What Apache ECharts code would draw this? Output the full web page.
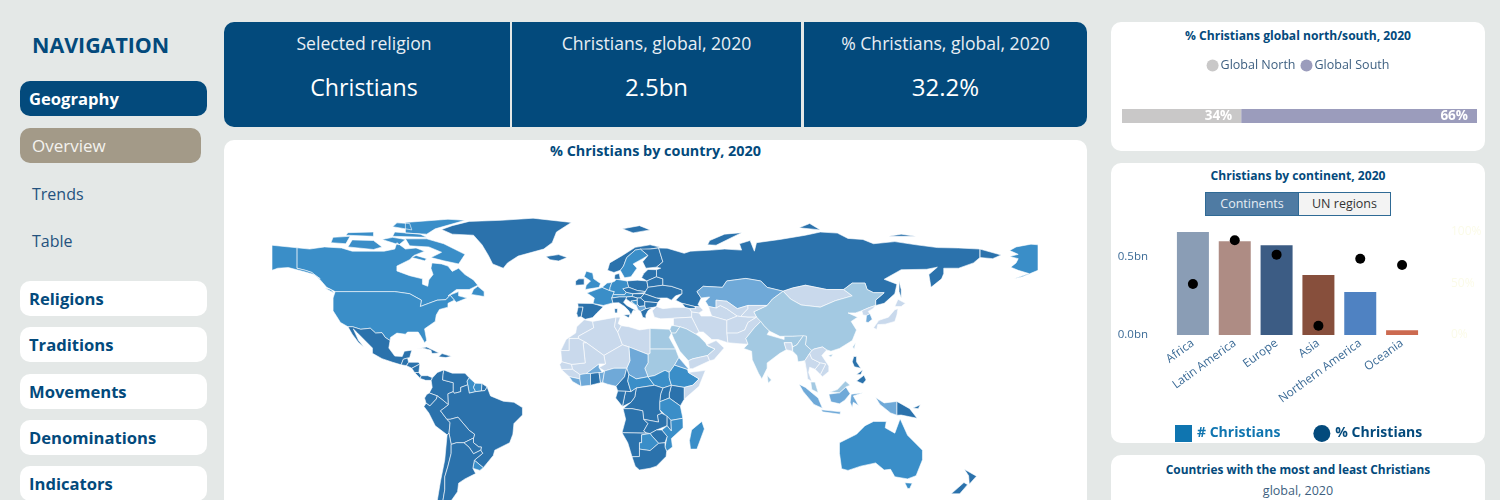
<!DOCTYPE html>
<html>
<head>
<meta charset="utf-8">
<title>Christians, global, 2020</title>
<script src="https://cdn.jsdelivr.net/npm/echarts@6/dist/echarts.min.js"></script>
<style>
html, body { margin: 0; padding: 0; width: 1500px; height: 500px; overflow: hidden; background: #e4e8e7; font-family: "Open Sans", "Noto Sans", sans-serif; }
.abs { position: absolute; box-sizing: border-box; }
.nav { left: 20px; width: 187px; height: 35px; line-height: 36px; padding-left: 9px; background: #fff; border-radius: 10px; color: #034a7c; font-weight: 700; font-size: 16.6px; }
.sub { left: 32px; color: #24527e; font-size: 16px; line-height: 24px; }
.kpi { top: 22px; height: 105px; background: #034a7c; color: #fff; text-align: center; }
.kpi .t { position: absolute; left: 0; right: 0; top: 9px; font-size: 17.6px; line-height: 24px; color: #e8eef4; }
.kpi .v { position: absolute; left: 0; right: 0; top: 46px; font-size: 24px; line-height: 38px; }
.card { background: #fff; border-radius: 10px; }
.title { position: absolute; left: 0; right: 0; text-align: center; color: #034a7c; font-weight: 700; font-size: 12.1px; line-height: 18px; }
.tog { top: 192px; height: 24px; line-height: 22px; text-align: center; font-size: 12.5px; border: 1px solid #2f6a95; }
</style>
</head>
<body>
<div class="abs" style="left:32px;top:29px;font-size:21.4px;font-weight:700;color:#034a7c;line-height:32px">NAVIGATION</div>
<div class="abs nav" style="top:81px;background:#034a7c;color:#fff">Geography</div>
<div class="abs nav" style="top:128px;width:181px;background:#a39a88;color:#f4f2ee;font-weight:400;padding-left:12px;font-size:17px">Overview</div>
<div class="abs sub" style="top:182px">Trends</div>
<div class="abs sub" style="top:229px">Table</div>
<div class="abs nav" style="top:281px">Religions</div>
<div class="abs nav" style="top:327px">Traditions</div>
<div class="abs nav" style="top:374px">Movements</div>
<div class="abs nav" style="top:420px">Denominations</div>
<div class="abs nav" style="top:466px">Indicators</div>

<div class="abs kpi" style="left:224px;width:286px;border-radius:10px 0 0 10px;padding-right:6px"><div class="t" style="right:6px">Selected religion</div><div class="v" style="right:6px;font-size:23.2px">Christians</div></div>
<div class="abs kpi" style="left:512px;width:289px"><div class="t">Christians, global, 2020</div><div class="v">2.5bn</div></div>
<div class="abs kpi" style="left:804px;width:283px;border-radius:0 10px 10px 0"><div class="t">% Christians, global, 2020</div><div class="v">32.2%</div></div>

<div class="abs card" style="left:224px;top:140px;width:863px;height:400px">
  <div class="title" style="top:2px;font-size:14.4px">% Christians by country, 2020</div>
  <div id="map-chart" style="position:absolute;left:0;top:0;width:863px;height:360px"></div>
</div>

<div class="abs card" style="left:1111px;top:22px;width:374px;height:129px">
  <div class="title" style="top:5px">% Christians global north/south, 2020</div>
  <div id="split-chart" style="position:absolute;left:0;top:0;width:374px;height:129px"></div>
</div>

<div class="abs card" style="left:1111px;top:163px;width:374px;height:280px;overflow:hidden">
  <div class="title" style="top:4px">Christians by continent, 2020</div>
  <div id="continent-chart" style="position:absolute;left:0;top:0;width:374px;height:280px"></div>
</div>
<div class="abs tog" style="left:1205px;width:94px;background:#4f7ba3;color:#e6edf3">Continents</div>
<div class="abs tog" style="left:1298px;width:93px;background:#f3f3f3;color:#333">UN regions</div>

<div class="abs card" style="left:1111px;top:455px;width:374px;height:100px">
  <div class="title" style="top:5px;font-size:11.9px">Countries with the most and least Christians</div>
  <div style="position:absolute;left:0;right:0;top:27px;text-align:center;font-size:12.5px;line-height:18px;color:#3d5f80">global, 2020</div>
</div>

<script>
// continents chart
const continents = ['Africa', 'Latin America', 'Europe', 'Asia', 'Northern America', 'Oceania'];
const christiansBn = [0.66, 0.60, 0.575, 0.385, 0.275, 0.03];
const christiansPct = [49.5, 92, 78, 9, 74, 68];
const continentColors = ['#8a9db5', '#ae8c84', '#3c5c84', '#874f3c', '#4f82c2', '#cc6a50'];

// global north / south split
const northSouthNames = ['Global North', 'Global South'];
const northSouthPct = [33.6, 66.4];

// % Christians by country, estimated from the shade of each country
const countryPct = {
  Canada: 60, USA: 65, Mexico: 94, Guatemala: 95, Honduras: 90, Nicaragua: 90, CostaRica: 90, Panama: 90,
  Cuba: 75, Hispaniola: 85, Colombia: 92, Venezuela: 90, Guyana: 62, Suriname: 55, Guiana: 80, Ecuador: 94,
  Peru: 95, Brazil: 88, Bolivia: 93, Paraguay: 96, Uruguay: 55, Chile: 88, Argentina: 88, Greenland: 95,
  Iceland: 85, Svalbard: 80, UK: 60, Ireland: 85, Portugal: 90, Spain: 75, France: 60, Benelux: 55,
  Germany: 65, Alps: 68, Italy: 80, Denmark: 78, Norway: 80, Sweden: 62, Finland: 78, Poland: 92,
  Baltics: 70, Belarus: 72, Ukraine: 82, Czechia: 70, Hungary: 80, Romania: 95, Croatia: 85, Bosnia: 50,
  Serbia: 88, Albania: 40, Bulgaria: 80, Greece: 90, Russia: 72, Kazakhstan: 24, Mongolia: 1.8, China: 5,
  NorthKorea: 1.5, SouthKorea: 30, Japan: 1.5, Turkmenistan: 1.5, Uzbekistan: 1.2, Kyrgyz: 1.5, Afghanistan: 0.2,
  Pakistan: 1.5, Iran: 0.5, India: 3, Bangladesh: 0.5, SriLanka: 8, Myanmar: 8, Thailand: 1, Indochina: 1.5,
  Cambodia: 1, Malaya: 15, Sumatra: 25, Java: 25, Kalimantan: 25, Sarawak: 15, Sulawesi: 25, WestPapua: 40,
  PNG: 95, Luzon: 90, Mindanao: 90, Visayas: 90, Australia: 55, Tasmania: 55, NZSouth: 72, NZNorth: 72,
  Georgia: 85, Azerbaijan: 1.5, Turkey: 0.3, Levant: 1.5, Jordan: 3, Saudi: 4, Yemen: 0.2, Oman: 1.8,
  Morocco: 0.5, Algeria: 1, Tunisia: 0.5, Libya: 1.5, Egypt: 5, Sudan: 5, Chad: 40, Niger: 0.5, Mali: 1.5,
  Mauritania: 0.2, Senegal: 1.5, Guinea: 1.5, SierraLeone: 25, IvoryCoast: 35, Burkina: 25, Ghana: 72, Benin: 45,
  Nigeria: 45, Cameroon: 70, CAR: 65, SouthSudan: 65, Ethiopia: 62, Eritrea: 45, Somalia: 0.5, Kenya: 82, Uganda: 85,
  Tanzania: 60, DRC: 92, Congo: 90, Gabon: 80, Angola: 92, Zambia: 96, Malawi: 80, Mozambique: 55, Zimbabwe: 85,
  Namibia: 90, Botswana: 65, SouthAfrica: 82, Madagascar: 60, Taiwan: 5, Hainan: 5
};

// simplified country outlines in lon/lat; longitudes run past 180 because the map is cut at -152.7
const countryShapes = {
  Canada: [[[-141,69.6],[-135,69],[-128,70],[-120,69.5],[-115,68],[-108,68],[-100,68],[-95,69],[-94,72],[-90,69],[-85,69.5],[-81,68],[-86,66],[-88,64],[-94,61],[-94,58.7],[-88,56.5],[-82,55],[-82,52.5],[-79.5,51.5],[-79,54.5],[-77,57],[-78,60],[-77.5,62.5],[-73,62],[-70,61],[-68,58.5],[-65,60],[-62,57],[-58,54.5],[-56,52],[-60,50],[-66,50],[-70,47],[-65,49],[-65,47],[-61,46],[-66,44],[-67,45],[-69,47.3],[-71,45.2],[-75,45],[-79,43.5],[-83,42],[-82.5,45],[-88,48],[-95,49],[-123,49],[-127,51],[-130,54.5],[-134,58],[-137,59],[-141,60]],
    [[-90,73.8],[-80,73.8],[-72,71.5],[-67,69],[-62,66.5],[-65,62],[-72,63.5],[-78,65],[-73,67.5],[-79,70],[-88,70.5]],
    [[-117,70],[-105,68.8],[-101,70],[-105,73],[-115,73.3]],[[-125,72],[-118,71.5],[-116,75],[-124,74.5]],
    [[-90,76.5],[-80,76],[-76,78.5],[-62,82.5],[-70,83],[-90,81.5]],[[-96,75],[-80,74.5],[-83,76],[-95,77]],
    [[-118,75.5],[-105,75],[-105,77],[-117,76.7]],[[-59,47.7],[-53,46.7],[-53,49],[-56,51.5],[-58,50]],
    [[-87,65],[-81,63.5],[-80,64.5],[-85,66]],[[-128,50.7],[-123.5,48.4],[-125,50]],
    [[-101,73.5],[-93,71],[-90,73.5],[-96,74.5]],[[-96,79.5],[-87,78],[-88,81],[-94,81.3]]],
  USA: [[[-123,49],[-95,49],[-88,48],[-82.5,45],[-83,42],[-79,43.5],[-75,45],[-71,45.2],[-69,47.3],[-67,45],[-70,43.5],[-70,41.7],[-74,40.6],[-75.5,38],[-76,35],[-81,31.5],[-80,26],[-81,25],[-82.7,28],[-84,30],[-89,30],[-90,29],[-94,29.5],[-97,27.5],[-97.2,26],[-99.5,27.5],[-101,29.7],[-104,29.5],[-106.5,31.8],[-111,31.3],[-114.8,32.5],[-117,32.5],[-120.5,34.5],[-124,40],[-124,46]],
    [[-152.7,70.8],[-141,69.6],[-141,60],[-137,59],[-134,58],[-130,55],[-133,57],[-137,58.2],[-145,60.3],[-150,60],[-152.7,59]],
    [[207.3,71],[204,71.3],[197,70],[194,68.3],[198,66.5],[194,65.5],[198,64.5],[197,62.5],[194.5,60.5],[198,59],[203,57.5],[196,55],[200,56],[207.3,59]]],
  Mexico: [[[-117,32.5],[-114.8,32.5],[-111,31.3],[-106.5,31.8],[-104,29.5],[-101,29.7],[-99.5,27.5],[-97.2,26],[-97.8,22.5],[-95,18.7],[-91.5,18.5],[-90.5,21],[-87,21.5],[-88,18],[-89,17.8],[-91,17.2],[-92,14.6],[-96,15.8],[-101,17.5],[-105.5,20],[-105.5,22.5],[-109,26],[-112.5,29.5],[-114.5,31.5],[-112,26],[-109.5,23],[-112,25],[-115,29]]],
  Guatemala: [[[-92,14.6],[-91,17.2],[-89,17.8],[-88.5,15.8],[-89.5,14.2]]],
  Honduras: [[[-89.5,14.2],[-88.5,15.8],[-84,15.8],[-83.2,15],[-87,13]]],
  Nicaragua: [[[-87,13],[-83.2,15],[-83.7,11],[-85.7,11]]],
  CostaRica: [[[-85.7,11],[-83.7,11],[-82.6,9.5],[-83,8.2]]],
  Panama: [[[-83,8.2],[-82.6,9.5],[-79.5,9.5],[-77.3,8.5],[-78,7.3],[-80.5,7.3]]],
  Cuba: [[[-85,22],[-80,23],[-74.2,20.2],[-77.5,19.9],[-78,21.5],[-82,22.5]]],
  Hispaniola: [[[-74.4,18.4],[-72.8,19.9],[-68.4,18.6],[-71,18]]],
  Colombia: [[[-77.3,8.5],[-75,11],[-72,12.2],[-72.3,10],[-72.5,7.5],[-67.5,6.2],[-67.5,2],[-70,1],[-69.8,-4.2],[-72,-2.3],[-75,0],[-78.8,1.4],[-77.4,4],[-77.9,7.2]]],
  Venezuela: [[[-72,12.2],[-68,10.7],[-62,10.7],[-60,8.5],[-61,7],[-60.7,5.2],[-64,4],[-64,2],[-67,1.2],[-67.5,2],[-67.5,6.2],[-72.5,7.5],[-72.3,10]]],
  Guyana: [[[-60,8.5],[-57.2,6],[-58,4],[-57,2],[-60,1.3],[-60.7,5.2],[-61,7]]],
  Suriname: [[[-57.2,6],[-54,5.8],[-54.3,2.3],[-57,2],[-58,4]]],
  Guiana: [[[-54,5.8],[-51.6,4.2],[-52.6,2.5],[-54.3,2.3]]],
  Ecuador: [[[-78.8,1.4],[-75,0],[-75.5,-1.5],[-78.5,-4.7],[-80.3,-3.4],[-81,-1],[-80,0.7]]],
  Peru: [[[-80.3,-3.4],[-78.5,-4.7],[-75.5,-1.5],[-75,0],[-72,-2.3],[-69.8,-4.2],[-73.5,-7],[-70.5,-11],[-69,-12.5],[-69.5,-17.5],[-70.4,-18.3],[-76,-14],[-79,-8],[-81.3,-5]]],
  Brazil: [[[-51.6,4.2],[-50,0],[-44,-2.5],[-39,-3],[-35,-5.5],[-35,-9],[-39,-13],[-39.5,-18],[-41,-22],[-48,-25.5],[-48.7,-28],[-53.4,-33.7],[-57.6,-30.2],[-53.7,-27],[-54.6,-25.5],[-54.3,-24],[-55.5,-24],[-58,-22],[-58,-19.8],[-57.5,-18],[-60,-16.2],[-65.3,-10],[-69,-11],[-70.5,-11],[-73.5,-7],[-69.8,-4.2],[-70,1],[-67.5,2],[-67,1.2],[-64,2],[-64,4],[-60.7,5.2],[-60,1.3],[-57,2],[-54.3,2.3],[-52.6,2.5]]],
  Bolivia: [[[-69,-12.5],[-70.5,-11],[-69,-11],[-65.3,-10],[-60,-16.2],[-57.5,-18],[-58,-19.8],[-62.5,-22],[-66,-22],[-68.5,-22.8],[-69.5,-17.5]]],
  Paraguay: [[[-58,-19.8],[-58,-22],[-55.5,-24],[-54.3,-24],[-54.6,-25.5],[-58,-27.2],[-60,-24.2],[-62.5,-22]]],
  Uruguay: [[[-57.6,-30.2],[-53.4,-33.7],[-55,-35],[-58.3,-34]]],
  Chile: [[[-70.4,-18.3],[-69.5,-17.5],[-68.5,-22.8],[-68.5,-27],[-70,-33],[-71.5,-38],[-71.5,-44],[-72.5,-50],[-69,-52],[-68.5,-55],[-72,-54],[-75,-49],[-73.5,-40],[-71.5,-30]]],
  Argentina: [[[-66,-22],[-62.5,-22],[-60,-24.2],[-58,-27.2],[-54.6,-25.5],[-53.7,-27],[-57.6,-30.2],[-58.3,-34],[-57,-36.5],[-62,-39],[-65,-41],[-65.5,-45],[-69,-50],[-69,-52],[-72.5,-50],[-71.5,-44],[-71.5,-38],[-70,-33],[-68.5,-27],[-68.5,-22.8]]],
  Greenland: [[[-73,78.2],[-68,76],[-58,75.5],[-54,71],[-51,66],[-49,62],[-44,60],[-42,62.5],[-37,65.7],[-25,69],[-21,72],[-19,77],[-12,81.5],[-30,83.5],[-45,82.5],[-60,82],[-68,80]]],
  Iceland: [[[-24,65.5],[-18,66.4],[-14,65],[-18,63.4],[-22,64]]],
  Svalbard: [[[12,78.5],[20,80],[25,78],[17,76.6]]],
  UK: [[[-5.5,50],[1,51],[1.7,52.8],[-1.5,55],[-2,57.7],[-5,58.6],[-6,56],[-3,54],[-5,52]]],
  Ireland: [[[-10,52],[-6,52.2],[-6,55],[-8.5,55],[-10,54]]],
  Portugal: [[[-9,37],[-7.4,37.2],[-6.5,41.8],[-8.8,41.8],[-9.5,38.8]]],
  Spain: [[[-8.8,41.8],[-6.5,41.8],[-7.4,37.2],[-5.5,36],[-2,36.8],[0,39],[3,41.9],[-1.8,43.4],[-9,43.5]]],
  France: [[[-1.8,43.4],[3,42.5],[7.5,43.7],[7,46],[8.2,49],[6,49.5],[2.5,51],[-1.5,49.5],[-4.7,48.4],[-1.2,46]]],
  Benelux: [[[2.5,51],[6,49.5],[6.2,51],[7,53.3],[4.8,53]]],
  Germany: [[[6,49.5],[8.2,49],[7.6,47.6],[13,47.5],[13.8,48.7],[12.2,50.3],[15,51],[14.2,54],[9,54.8],[8.5,54],[7,53.3],[6.2,51]]],
  Alps: [[[7,46],[10.5,46.5],[14,46.5],[16.5,46.7],[17,48],[13.8,48.7],[13,47.5],[7.6,47.6]]],
  Italy: [[[7.5,43.7],[10.3,43.8],[13,42],[15,40],[16,38],[17,40.2],[18.5,40],[14,42.5],[12.5,44],[13.7,45.7],[14,46.5],[10.5,46.5],[7,46]],[[12.5,38],[15.5,38.2],[15,36.7]],[[8.3,41],[9.7,41],[9.5,39],[8.5,39]]],
  Denmark: [[[8.2,55],[9,54.8],[11,54.8],[10.5,57.5],[8.5,57]]],
  Norway: [[[5,59],[8,58],[11,59],[12.5,61],[14,65],[18,68.5],[25,69],[30,69.8],[25,71],[18,69.8],[12,66],[6,62.5]]],
  Sweden: [[[11,59],[13,55.5],[16,56],[18.8,60],[17,62],[21.5,64.5],[24,66],[20.5,69],[18,68.5],[14,65],[12.5,61]]],
  Finland: [[[24,66],[21.5,63],[23,60],[28,60.5],[31,63],[29,69.5],[25,69],[20.5,69]]],
  Poland: [[[14.2,54],[15,51],[19,49.5],[22.8,49],[24,51],[23.5,54],[19,54.4]]],
  Baltics: [[[21,55.5],[23.5,54],[28,56],[28,59.3],[24,59.4],[22,57.5]]],
  Belarus: [[[23.5,54],[24,51],[31,52],[31,55],[28,56]]],
  Ukraine: [[[24,51],[22.8,49],[22.2,48],[28,46],[30,46],[33,46],[35,45],[37,47],[40,48],[40,49.8],[35,51.5],[31,52]]],
  Czechia: [[[12.2,50.3],[13.8,48.7],[17,48],[22.2,48.5],[22.8,49],[19,49.5],[15,51]]],
  Hungary: [[[16.5,46.7],[19,46],[20.5,46],[22.2,48],[17,48]]],
  Romania: [[[22.2,48],[20.5,46],[22.5,44.3],[28.5,43.8],[30,45.5],[28,46]]],
  Croatia: [[[13.7,45.7],[14,46.5],[16.5,46.7],[19,46],[19,45],[16,44.5],[18.5,42.5],[14.5,45]]],
  Bosnia: [[[16,44.5],[19,45],[19,43],[18.5,42.5]]],
  Serbia: [[[19,46],[20.5,46],[22.5,44.3],[22.5,42.3],[20,42],[19,43],[19,45]]],
  Albania: [[[18.5,42.5],[19,43],[20,42],[22.5,42.3],[23,41],[20.5,39.7],[19.3,40.5]]],
  Bulgaria: [[[22.5,44.3],[28.5,43.8],[28,42],[26,41.5],[23,41],[22.5,42.3]]],
  Greece: [[[20.5,39.7],[23,41],[26,41.5],[24,40],[23,38],[23,36.5],[21.5,37],[21,38.5]]],
  Russia: [[[29,69.5],[33,69.4],[41,67],[44,68],[54,68.5],[60,69],[68,68.5],[67,71.5],[72,73],[74,68],[75,72],[86,73.5],[98,75.5],[105,77],[113,76.5],[118,74],[125,73.5],[130,71.5],[140,72.5],[150,71],[160,69.7],[170,69.5],[180,69],[180,65],[177,62.5],[170,60],[163,60],[163,57.5],[162,55],[157,51],[156,57],[160,60.5],[155,59.5],[143,59.3],[135,54.8],[141,52.5],[140,48],[135,43.5],[131,42.5],[131,45],[135,48.5],[130,48.5],[127,50],[126,53],[120,53],[116,50],[108,50],[98,52],[92,50.7],[87.5,49.2],[80,51],[77,54],[70,55.2],[61,54],[59,51],[50,51.5],[47,49],[49,46],[47.5,43],[48.5,41.8],[46,42],[40,43.5],[37,45],[39,47],[40,48],[40,49.8],[35,51.5],[31,52],[31,55],[28,56],[28,59.3],[30,60],[28,60.5],[31,63]],
    [[180,69],[190,66.2],[186,64.5],[180,65]],[[52,71],[56,70.8],[68,76.7],[60,76],[53,73]],[[95,79],[105,78],[100,81]],[[137,75],[150,75],[143,76]],[[142,54],[143,50],[143,46],[142,49]]],
  Kazakhstan: [[[47,49],[50,51.5],[59,51],[61,54],[70,55.2],[77,54],[80,51],[87.5,49.2],[82.5,45.5],[80,42.5],[71,42.5],[66,41],[61,44.5],[56,45],[56,41.3],[52.5,42],[51,44.5],[53,46.5],[49,46]]],
  Mongolia: [[[87.5,49.2],[92,50.7],[98,52],[108,50],[116,50],[120,47],[112,44.7],[105,41.7],[96,42.7],[91,45.5]]],
  China: [[[87.5,49.2],[91,45.5],[96,42.7],[105,41.7],[112,44.7],[120,47],[116,50],[120,53],[126,53],[127,50],[130,48.5],[135,48.5],[131,45],[131,42.5],[128,41.5],[124.5,40],[121.5,39],[118,39],[122.5,37],[119.5,35],[122,31],[120,26],[114,22.3],[110,21],[108,21.6],[106,23],[102,22],[101,21.3],[98,24],[98.5,28],[92,28],[86,28],[81,30.5],[78.5,33],[75,37],[73.7,39.5],[80,42.5],[82.5,45.5]]],
  Hainan: [[[108.7,19],[111,19.7],[110,18.3]]],
  Taiwan: [[[120.2,23],[121.5,25],[121,22]]],
  NorthKorea: [[[124.5,40],[128,41.5],[131,42.5],[129.7,41],[127.5,39.7],[128.3,38.6],[126.7,37.8],[125,38]]],
  SouthKorea: [[[126.7,37.8],[128.3,38.6],[129.4,36],[127.5,34.5],[126.4,34.7]]],
  Japan: [[[130,32],[131.5,31.2],[132,33.5],[135.5,33.7],[140,35],[141,38],[141.5,41],[140,40.5],[137,37],[132.5,35.5]],[[140,42],[141.5,45.4],[145,43.5],[143,42]]],
  Turkmenistan: [[[52.5,42],[56,41.3],[58,42.5],[61,41],[66,37.5],[61,35.5],[54,37.5],[53,40]]],
  Uzbekistan: [[[56,41.3],[56,45],[61,44.5],[66,41],[71,42.5],[71,41],[67.5,37.3],[66,37.5],[61,41],[58,42.5]]],
  Kyrgyz: [[[71,42.5],[80,42.5],[73.7,39.5],[75,37],[71,37],[67.5,37.3],[71,41]]],
  Afghanistan: [[[61,35.5],[66,37.5],[67.5,37.3],[71,37],[75,37],[71,34.5],[69.5,31],[66,29.5],[61,29.5]]],
  Pakistan: [[[61,29.5],[66,29.5],[69.5,31],[71,34.5],[75,37],[77,35],[74,32],[70,27],[71,24.3],[67,24.5],[61.5,25]]],
  Iran: [[[44.5,39.5],[48,39],[49,37.5],[54,37.5],[61,35.5],[61,29.5],[61.5,25],[57,26.5],[54,26.5],[50,30],[48,30],[46,34],[44.5,37]]],
  India: [[[74,32],[77,35],[78.5,33],[81,30.5],[80,28.8],[88,26.5],[88,28],[92,28],[97,28.3],[94,24],[92,23],[91.5,25],[88,25],[89,21.7],[86,20],[80,15.5],[80,13],[77.5,8],[76,10.5],[73,17],[72.7,21],[69,22.3],[71,24.3],[70,27]]],
  Bangladesh: [[[88,25],[91.5,25],[92,21],[89,21.7]]],
  SriLanka: [[[80,9.7],[82,7.5],[80.5,6]]],
  Myanmar: [[[92,21],[92,23],[94,24],[97,28.3],[98.5,28],[98,24],[101,21.3],[100,20],[97.7,16.5],[98.7,11],[97.5,16.5],[94.5,16],[94,19]]],
  Thailand: [[[100,20],[101,17.5],[105,15.5],[102.5,12.5],[100,13.5],[99.5,11],[101,6.8],[99,8],[98.7,11],[97.7,16.5]]],
  Indochina: [[[101,21.3],[102,22],[106,23],[108,21.6],[105.7,19],[109,14],[109,11.5],[106,9],[105,10],[106,12],[107.5,15],[105,15.5],[101,17.5],[100,20]]],
  Cambodia: [[[102.5,12.5],[105,15.5],[107.5,15],[106,12],[105,10]]],
  Malaya: [[[100.5,6.5],[102.5,6.5],[104,1.5],[101,3]]],
  Sumatra: [[[95,5.5],[98,4],[104,-1],[106,-5.8],[102,-4],[97,2]]],
  Java: [[[105.5,-6.5],[114.5,-7.5],[114.3,-8.6],[106,-7.5]]],
  Kalimantan: [[[109,0.8],[114,1.5],[117,4.2],[119,1],[116.5,-2],[114,-3.7],[110,-2.8]]],
  Sarawak: [[[109.5,1.8],[113,3],[116.8,7],[119,5],[117,4.2],[114,1.5]]],
  Sulawesi: [[[119.5,0.8],[125,1.5],[120.5,0],[123,-4.5],[120.5,-3],[120,-5.5],[119,-3]]],
  WestPapua: [[[131,-0.8],[135,-3.3],[141,-2.6],[141,-9.1],[138,-8],[133,-4]]],
  PNG: [[[141,-2.6],[147,-6],[150.5,-10.5],[147,-9.8],[143,-9],[141,-9.1]],[[148.5,-5.7],[152,-4.2],[151,-6]]],
  Luzon: [[[120,16],[120.7,18.5],[122,18.5],[122,16],[124,13],[121,13.7]]],
  Mindanao: [[[122,7],[125.5,9.7],[126.5,7.5],[125,5.7]]],
  Visayas: [[[122,10],[125,12.3],[124,10]]],
  Australia: [[[114,-22],[122,-18],[126,-14],[130,-12],[136,-12],[135.5,-15],[140,-17.5],[142.5,-10.7],[146,-18.5],[153,-25.5],[153,-30],[150,-37.5],[146,-39],[140,-38],[138,-34.5],[135,-34.8],[131,-31.5],[124,-33],[118,-35],[115,-34.2],[114,-27]]],
  Tasmania: [[[144.7,-40.8],[148.2,-41],[147,-43.5],[146,-43.5]]],
  NZSouth: [[[166.5,-46],[172.5,-40.7],[174.2,-41.7],[170.5,-46]]],
  NZNorth: [[[172.7,-34.5],[178.4,-37.7],[175,-41.5],[174.7,-37.5]]],
  Georgia: [[[40,43.5],[46,42],[46.5,41],[43.5,41],[41.5,41.5]]],
  Azerbaijan: [[[43.5,41],[46.5,41],[46,42],[48.5,41.8],[50,40.3],[48,39],[44.5,39.5]]],
  Turkey: [[[26,40],[28,42],[31,41],[36,41.5],[41.5,41.5],[43.5,41],[44.5,39.5],[44.5,37],[36,36.5],[30,36.2],[27,37]]],
  Levant: [[[36,36.5],[44.5,37],[46,34],[48,30],[46.5,29],[42,31.5],[39,32.5],[36,33]]],
  Jordan: [[[34.3,31.3],[35,33],[36,33],[39,32.5],[37,29.5],[35,29.5]]],
  Saudi: [[[35,29.5],[37,29.5],[39,32.5],[42,31.5],[46.5,29],[48,28],[51,25],[52,23.5],[55.5,22],[52,19],[45,17.4],[43,16.5],[39,21],[36.5,26]]],
  Yemen: [[[43,16.5],[45,17.4],[52,19],[53,16.5],[45,12.8],[43.5,12.8]]],
  Oman: [[[51.5,24],[56,26],[59.8,22.5],[55,17],[53,16.5],[52,19],[55.5,22]]],
  Morocco: [[[-6,35.8],[-2,35],[-1.5,32],[-8.7,28],[-8.7,27],[-13,27],[-13,21.3],[-17,21.3],[-14.5,26.5],[-10,29.5],[-9.5,32.5]]],
  Algeria: [[[-2,35],[9,37],[8.3,32.5],[9.8,30],[12,24],[3.3,19],[-5,25],[-8.7,27],[-8.7,28],[-1.5,32]]],
  Tunisia: [[[9,37],[11,37],[10,34],[11.5,33],[9.8,30],[8.3,32.5]]],
  Libya: [[[11.5,33],[15,32.5],[20,31],[25,31.7],[25,20],[24,19.5],[15,23],[12,24],[9.8,30]]],
  Egypt: [[[25,31.7],[34,31.3],[35,29.5],[34,27.5],[37,22],[25,22]]],
  Sudan: [[[25,22],[37,22],[38.5,18],[36.5,14.5],[34,11],[32,12],[27,9.5],[24,9],[22.5,13],[24,15.5],[24,19.5],[25,20]]],
  Chad: [[[15,23],[24,19.5],[24,15.5],[22.5,13],[24,9],[18.5,8],[15,10],[14,13],[15.5,16.5]]],
  Niger: [[[3.3,19],[12,24],[15,23],[15.5,16.5],[14,13],[8,13],[3.6,11.7],[1,13.3],[4,15]]],
  Mali: [[[-12,14.8],[-5.5,15.5],[-6.5,25],[-5,25],[3.3,19],[4,15],[1,15],[-5,10.5],[-8,10],[-11.5,12.5]]],
  Mauritania: [[[-17,21.3],[-13,21.3],[-13,27],[-8.7,27],[-5,25],[-6.5,25],[-5.5,15.5],[-12,14.8],[-16.5,16]]],
  Senegal: [[[-16.5,16],[-12,14.8],[-11.5,12.5],[-16.7,12.4],[-17.5,14.7]]],
  Guinea: [[[-16.7,12.4],[-11.5,12.5],[-8,10],[-8,8],[-13,9]]],
  SierraLeone: [[[-13,9],[-8,8],[-7.5,4.5],[-11.5,6.8]]],
  IvoryCoast: [[[-8,10],[-5,10.5],[-3,10.5],[-3,5],[-7.5,4.5],[-8,8]]],
  Burkina: [[[-5,10.5],[1,15],[1,13.3],[2.5,11],[-3,10.5]]],
  Ghana: [[[-3,10.5],[1,11],[1.7,6.2],[-3,5]]],
  Benin: [[[1,11],[2.5,11],[3.6,11.7],[2.7,6.3],[1.7,6.2]]],
  Nigeria: [[[3.6,11.7],[8,13],[14,13],[13,9],[9,4.5],[5,5.5],[2.7,6.3]]],
  Cameroon: [[[14,13],[15,10],[14.5,7],[16,2],[9.8,2.3],[9,4.5],[13,9]]],
  CAR: [[[14.5,7],[15,10],[18.5,8],[24,9],[27,5],[18.5,3.7],[16,2]]],
  SouthSudan: [[[24,9],[27,9.5],[32,12],[34,11],[34,8.5],[35,5],[31,3.7],[27,5]]],
  Ethiopia: [[[34,11],[36.5,14.5],[42.5,12.5],[43,11],[48,8],[45,5],[41,4],[35,5],[34,8.5]]],
  Eritrea: [[[36.5,14.5],[38.5,18],[43,12.7],[42.5,12.5]]],
  Somalia: [[[43,11],[51,12],[48,4.5],[41,-1.6],[41,4],[45,5],[48,8]]],
  Kenya: [[[35,5],[41,4],[41,-1.6],[39.2,-4.7],[34,-1],[34,1]]],
  Uganda: [[[31,3.7],[35,5],[34,1],[34,-1],[29.5,-2.8],[30,1]]],
  Tanzania: [[[29.5,-2.8],[34,-1],[39.2,-4.7],[40.4,-10.5],[34.8,-11.5],[29.5,-6.5]]],
  DRC: [[[18.5,3.7],[27,5],[31,3.7],[30,1],[29.5,-2.8],[29.5,-6.5],[30.5,-8.2],[28.5,-9],[29,-12.3],[22,-11],[21.5,-7],[16.5,-6],[12.3,-6],[16,-3],[17.8,-0.5]]],
  Congo: [[[13.5,2.2],[16,2],[18.5,3.7],[17.8,-0.5],[16,-3],[12,-5],[13,0]]],
  Gabon: [[[9.8,2.3],[13.5,2.2],[13,0],[12,-5],[8.8,-1]]],
  Angola: [[[12.3,-6],[16.5,-6],[21.5,-7],[22,-11],[24,-13],[22,-16.5],[23.5,-17.5],[11.8,-17.3],[13.5,-11]]],
  Zambia: [[[22,-11],[29,-12.3],[28.5,-9],[30.5,-8.2],[33,-9.5],[33,-14],[28,-16],[25,-17.7],[23.5,-17.5],[22,-16.5],[24,-13]]],
  Malawi: [[[33,-9.5],[34.8,-11.5],[35,-16.5],[33,-14]]],
  Mozambique: [[[40.4,-10.5],[40.5,-15],[35,-20],[35.5,-24],[32.8,-26],[32,-24],[33,-19],[30.5,-16],[33,-14],[35,-16.5],[34.8,-11.5]]],
  Zimbabwe: [[[25,-17.7],[28,-16],[30.5,-16],[33,-19],[32,-22],[29,-22.3],[26,-19]]],
  Namibia: [[[11.8,-17.3],[23.5,-17.5],[25,-17.7],[21,-18.3],[21,-22],[20,-22],[20,-28.5],[16.5,-28.6],[14.5,-22]]],
  Botswana: [[[21,-18.3],[25,-17.7],[26,-19],[29,-22.3],[25,-25.7],[20,-25],[20,-22],[21,-22]]],
  SouthAfrica: [[[16.5,-28.6],[20,-28.5],[20,-25],[25,-25.7],[29,-22.3],[32,-22],[32,-24],[32.8,-26],[32.5,-28.5],[28,-33],[25,-34],[20,-34.8],[18,-33]]],
  Madagascar: [[[49.3,-12],[50.5,-15.5],[47,-25],[44,-25],[43.5,-21],[44.5,-16]]]
};

document.addEventListener('DOMContentLoaded', function() {
    const labelFont = '"Open Sans", "Noto Sans", sans-serif';

    // world map
    const worldGeo = {
        type: 'FeatureCollection',
        features: Object.keys(countryShapes).map(name => ({
            type: 'Feature',
            properties: { name: name },
            geometry: { type: 'MultiPolygon', coordinates: countryShapes[name].map(ring => [ring]) }
        }))
    };
    echarts.registerMap('world', worldGeo);

    const mapChart = echarts.init(document.getElementById('map-chart'));
    mapChart.setOption({
        animation: false,
        visualMap: {
            show: false,
            type: 'piecewise',
            seriesIndex: 0,
            pieces: [
                { lt: 2, color: '#c9d9ec' },
                { gte: 2, lt: 20, color: '#a3c9e2' },
                { gte: 20, lt: 50, color: '#6fa9d8' },
                { gte: 50, lt: 70, color: '#3a8ec8' },
                { gte: 70, color: '#2b72ac' }
            ]
        },
        series: [{
            type: 'map',
            map: 'world',
            silent: true,
            aspectScale: 1,
            boundingCoords: [[-152.7, 85], [207.3, -60]],
            left: 48,
            top: 75,
            width: 766,
            height: 308.6,
            label: { show: false },
            itemStyle: { borderColor: '#ffffff', borderWidth: 0.6, areaColor: '#c9d9ec' },
            data: Object.keys(countryPct).map(name => ({ name: name, value: countryPct[name] }))
        }]
    });

    // north / south bar
    const splitChart = echarts.init(document.getElementById('split-chart'));
    const splitColors = ['#c9c8c8', '#9b9cbc'];
    splitChart.setOption({
        animation: false,
        textStyle: { fontFamily: labelFont },
        legend: {
            top: 32,
            left: 'center',
            icon: 'circle',
            itemWidth: 12,
            itemHeight: 12,
            itemGap: 5,
            textStyle: { color: '#3d5f80', fontSize: 12.5, padding: [0, 0, 0, -3] },
            data: northSouthNames
        },
        grid: { left: 11, right: 8, top: 87, height: 14 },
        xAxis: { type: 'value', min: 0, max: 100, show: false },
        yAxis: { type: 'category', data: ['share'], show: false },
        series: northSouthNames.map((name, i) => ({
            type: 'bar',
            name: name,
            stack: 'a',
            barWidth: 14,
            itemStyle: { color: splitColors[i] },
            label: {
                show: true,
                position: 'insideRight',
                formatter: p => Math.round(p.value) + '%',
                color: '#ffffff',
                fontWeight: 700,
                fontSize: 13.5,
                distance: 9
            },
            data: [northSouthPct[i]]
        }))
    });

    // continents combo
    const continentChart = echarts.init(document.getElementById('continent-chart'));
    const axisText = '#3a6a96';
    continentChart.setOption({
        animation: false,
        textStyle: { fontFamily: labelFont },
        legend: {
            bottom: -4,
            left: 59,
            itemGap: 33,
            itemWidth: 17,
            itemHeight: 17,
            textStyle: { fontSize: 14, fontWeight: 700 },
            data: [
                { name: '# Christians', icon: 'rect', itemStyle: { color: '#0f75b0' }, textStyle: { color: '#0f75b0' } },
                { name: '% Christians', icon: 'circle', itemStyle: { color: '#034a7c' }, textStyle: { color: '#034a7c' } }
            ]
        },
        grid: { left: 61, right: 62, top: 69, bottom: 108 },
        xAxis: {
            type: 'category',
            data: continents,
            axisLine: { show: false },
            axisTick: { show: false },
            axisLabel: { rotate: 36, color: axisText, fontSize: 11.8, interval: 0, margin: 7 }
        },
        yAxis: [
            {
                type: 'value',
                min: 0,
                max: 0.66,
                interval: 0.5,
                splitLine: { show: false },
                axisLine: { show: false },
                axisTick: { show: false },
                axisLabel: { color: axisText, fontSize: 11.5, margin: 24, showMaxLabel: false, formatter: v => v.toFixed(1) + 'bn' }
            },
            {
                type: 'value',
                min: 0,
                max: 100,
                interval: 50,
                splitLine: { show: false },
                axisLine: { show: false },
                axisTick: { show: false },
                axisLabel: { color: '#fbfbe8', fontSize: 12, margin: 28, formatter: '{value}%' }
            }
        ],
        series: [
            {
                type: 'bar',
                name: '# Christians',
                barWidth: 32,
                data: christiansBn.map((v, i) => ({ value: v, itemStyle: { color: continentColors[i] } }))
            },
            {
                type: 'scatter',
                name: '% Christians',
                yAxisIndex: 1,
                symbolSize: 10,
                itemStyle: { color: '#000000', opacity: 1 },
                data: christiansPct
            }
        ]
    });

    window.addEventListener('resize', () => {
        mapChart.resize();
        splitChart.resize();
        continentChart.resize();
    });
});
</script>
</body>
</html>
